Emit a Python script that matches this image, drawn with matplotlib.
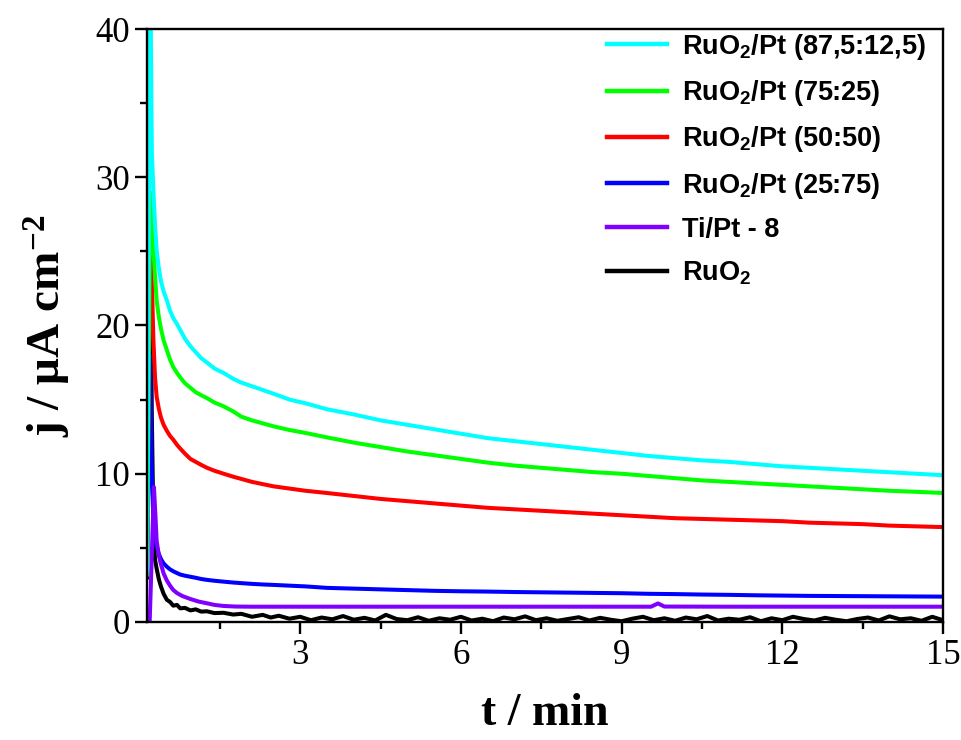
import matplotlib
matplotlib.use("Agg")
import matplotlib.pyplot as plt
from matplotlib.ticker import MultipleLocator

plt.rcParams['mathtext.default'] = 'regular'

# time grid (min) for the smooth curves
t = [0.14, 0.2, 0.23, 0.26, 0.29, 0.32, 0.36, 0.4, 0.45, 0.51,
     0.57, 0.63, 0.7, 0.76, 0.85, 0.95, 1.05, 1.15, 1.26, 1.4,
     1.57, 1.75, 1.9, 2.1, 2.3, 2.5, 2.8, 3.1, 3.5, 4.0,
     4.5, 5.0, 5.5, 6.0, 6.5, 7.0, 7.5, 8.0, 8.5, 9.0,
     9.5, 10.0, 10.5, 11.0, 11.5, 12.0, 12.5, 13.0, 13.5, 14.0,
     14.5, 15.0]

j_cyan = [3.5, 45.0, 31.8, 29.0, 26.8, 25.1, 23.9, 23.0, 22.3, 21.7,
          21.0, 20.5, 20.1, 19.7, 19.1, 18.6, 18.2, 17.8, 17.5, 17.1,
          16.8, 16.4, 16.15, 15.9, 15.65, 15.4, 15.0, 14.75, 14.35, 14.0,
          13.6, 13.3, 13.0, 12.7, 12.4, 12.2, 12.0, 11.8, 11.6, 11.4,
          11.2, 11.05, 10.9, 10.8, 10.65, 10.5, 10.4, 10.3, 10.2, 10.1,
          10.0, 9.9]

j_green = [3.2, 29.0, 27.5, 25.1, 23.3, 21.7, 20.6, 19.8, 19.0, 18.35,
           17.7, 17.2, 16.8, 16.5, 16.1, 15.8, 15.5, 15.3, 15.1, 14.8,
           14.55, 14.2, 13.85, 13.6, 13.4, 13.2, 12.95, 12.75, 12.45, 12.1,
           11.8, 11.5, 11.25, 11.0, 10.75, 10.55, 10.4, 10.25, 10.1, 10.0,
           9.85, 9.7, 9.55, 9.45, 9.35, 9.25, 9.15, 9.05, 8.95, 8.85,
           8.78, 8.7]

j_red = [3.3, 27.0, 23.0, 19.0, 16.5, 15.2, 14.4, 13.8, 13.3, 12.9,
         12.55, 12.3, 11.95, 11.7, 11.35, 11.0, 10.8, 10.6, 10.4, 10.2,
         10.0, 9.8, 9.65, 9.45, 9.3, 9.15, 9.0, 8.85, 8.7, 8.5,
         8.3, 8.15, 8.0, 7.85, 7.7, 7.6, 7.5, 7.4, 7.3, 7.2,
         7.1, 7.0, 6.95, 6.9, 6.85, 6.8, 6.7, 6.65, 6.6, 6.5,
         6.45, 6.4]

j_blue = [3.9, 18.0, 10.0, 6.8, 5.8, 5.1, 4.6, 4.25, 3.95, 3.73,
          3.55, 3.42, 3.3, 3.2, 3.12, 3.05, 2.98, 2.9, 2.84, 2.78,
          2.72, 2.66, 2.62, 2.57, 2.53, 2.5, 2.45, 2.4, 2.3, 2.25,
          2.2, 2.15, 2.1, 2.07, 2.05, 2.02, 2.0, 1.98, 1.96, 1.94,
          1.9, 1.88, 1.85, 1.83, 1.8, 1.78, 1.76, 1.75, 1.74, 1.73,
          1.72, 1.71]

# Ti/Pt - 8
t_purple = [0.19, 0.27, 0.3, 0.32, 0.36, 0.4, 0.45, 0.51, 0.57, 0.63,
            0.7, 0.8, 0.95, 1.1, 1.26, 1.4, 1.57, 1.8, 2.1, 2.4,
            3.0, 5.0, 7.0, 9.0, 9.55, 9.68, 9.8, 11.0, 13.0, 15.0]
j_purple = [0.0, 9.1, 7.0, 5.5, 4.5, 3.9, 3.28, 2.8, 2.45, 2.16,
            1.95, 1.75, 1.55, 1.38, 1.26, 1.15, 1.08, 1.04, 1.03, 1.03,
            1.03, 1.03, 1.03, 1.03, 1.03, 1.25, 1.04, 1.03, 1.03, 1.03]

# RuO2 (noisy)
t_black = [0.14, 0.2, 0.23, 0.26, 0.29, 0.32, 0.36, 0.4, 0.45, 0.51,
           0.57, 0.63, 0.7, 0.76, 0.85, 0.95, 1.05, 1.15, 1.26, 1.4,
           1.57, 1.75, 1.9, 2.1, 2.3, 2.45,
           2.6, 2.8, 3.0, 3.2, 3.4, 3.6, 3.8, 4.0, 4.2, 4.4,
           4.6, 4.8, 5.0, 5.2, 5.4, 5.6, 5.8, 6.0, 6.2, 6.4,
           6.6, 6.8, 7.0, 7.2, 7.4, 7.6, 7.8, 8.0, 8.2, 8.4,
           8.6, 8.8, 9.0, 9.2, 9.4, 9.6, 9.8, 10.0, 10.2, 10.4,
           10.6, 10.8, 11.0, 11.2, 11.4, 11.6, 11.8, 12.0, 12.2, 12.4,
           12.6, 12.8, 13.0, 13.2, 13.4, 13.6, 13.8, 14.0, 14.2, 14.4,
           14.6, 14.8, 15.0]
j_black = [3.0, 28.3, 14.0, 6.5, 4.2, 3.6, 2.9, 2.4, 1.9, 1.5,
           1.35, 1.1, 1.15, 0.92, 0.95, 0.78, 0.85, 0.7, 0.72, 0.6,
           0.62, 0.5, 0.55, 0.35, 0.48, 0.3,
           0.42, 0.22, 0.35, 0.12, 0.3, 0.18, 0.4, 0.15, 0.28, 0.1,
           0.48, 0.2, 0.12, 0.32, 0.08, 0.25, 0.15, 0.35, 0.1, 0.22,
           0.05, 0.3, 0.18, 0.38, 0.12, 0.25, 0.08, 0.2, 0.32, 0.1,
           0.28, 0.15, 0.05, 0.22, 0.35, 0.12, 0.25, 0.08, 0.3, 0.18,
           0.4, 0.1, 0.22, 0.15, 0.32, 0.05, 0.25, 0.12, 0.35, 0.2,
           0.1, 0.28, 0.15, 0.05, 0.2, 0.3, 0.1, 0.38, 0.18, 0.25,
           0.08, 0.35, 0.12]

labels = [r'RuO$_2$/Pt (87,5:12,5)', r'RuO$_2$/Pt (75:25)', r'RuO$_2$/Pt (50:50)',
          r'RuO$_2$/Pt (25:75)', 'Ti/Pt - 8', r'RuO$_2$']

fig = plt.figure(figsize=(9.62, 7.40), dpi=100)
ax = fig.add_axes([0.1528, 0.1595, 0.8274, 0.8013])

lw = 2.9
l_black, = ax.plot(t_black, j_black, color='black', lw=lw)
l_blue, = ax.plot(t, j_blue, color='#0000ff', lw=lw)
l_purple, = ax.plot(t_purple, j_purple, color='#8000ff', lw=lw)
l_red, = ax.plot(t, j_red, color='#ff0000', lw=lw)
l_green, = ax.plot(t, j_green, color='#00ff00', lw=lw)
l_cyan, = ax.plot(t, j_cyan, color='#00ffff', lw=lw)

ax.set_xlim(0.14, 15)
ax.set_ylim(0, 40)
ax.xaxis.set_major_locator(MultipleLocator(3))
ax.xaxis.set_minor_locator(MultipleLocator(1.5))
ax.yaxis.set_major_locator(MultipleLocator(10))
ax.yaxis.set_minor_locator(MultipleLocator(5))

for s in ax.spines.values():
    s.set_linewidth(1.7)
ax.tick_params(which='major', direction='out', length=8.5, width=1.7,
               labelsize=25, pad=4)
ax.tick_params(which='minor', direction='out', length=5, width=1.7)
ax.tick_params(which='both', top=False, right=False)
for lab in ax.get_xticklabels() + ax.get_yticklabels():
    lab.set_family('Liberation Serif')

ax.set_xlabel('t / min', family='Liberation Serif', fontweight='bold',
              fontsize=33, labelpad=15)
ax.set_ylabel(r'j / μA cm$^{-2}$', family='Liberation Serif', fontweight='bold',
              fontsize=34, labelpad=16)

leg = ax.legend([l_cyan, l_green, l_red, l_blue, l_purple, l_black], labels,
                loc='upper left', bbox_to_anchor=(0.578, 0.995), frameon=False,
                borderpad=0, borderaxespad=0, handlelength=2.2, handletextpad=0.55,
                labelspacing=0.6,
                prop={'family': 'Liberation Sans', 'weight': 'bold', 'size': 19.5})
for line in leg.get_lines():
    line.set_linewidth(3.2)

fig.savefig('out.png', dpi=100)
